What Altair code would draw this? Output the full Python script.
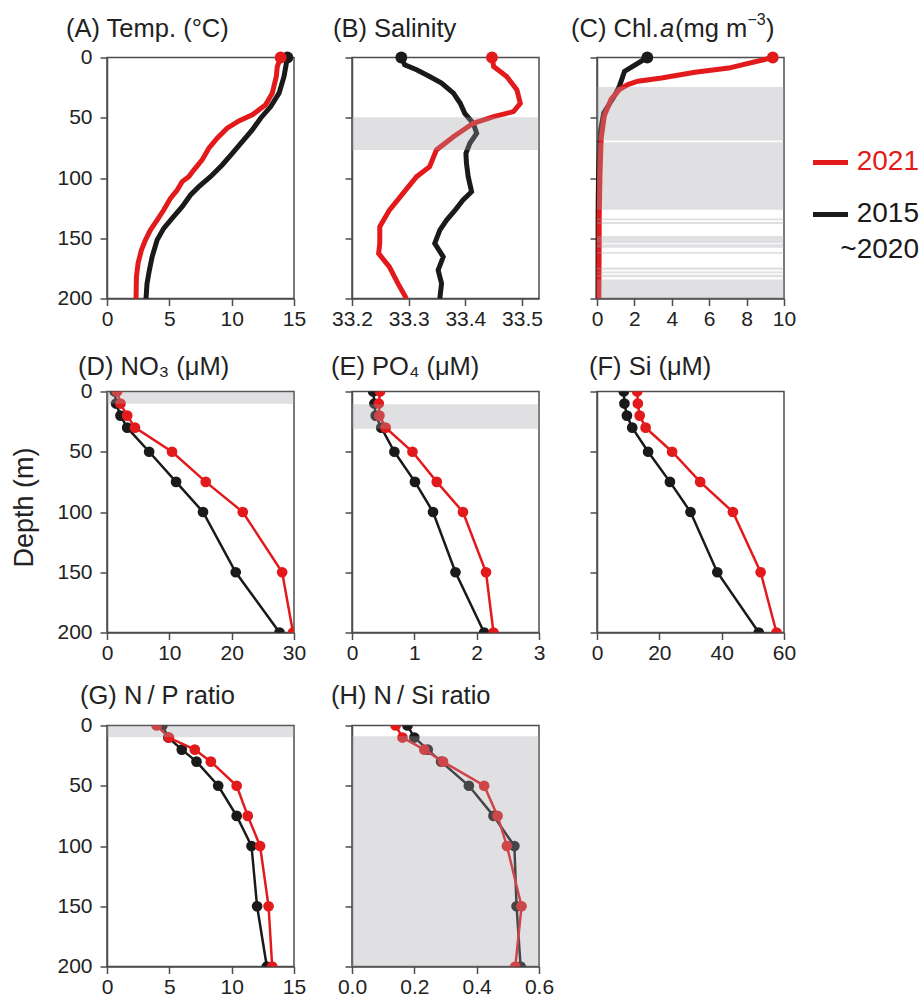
import altair as alt
import pandas as pd

RED = "#e31a1c"
BLACK = "#1a1a1a"
BAND = "#a2a2a8"
AXIS = "#4d4d4d"
TXT = "#222222"
FONT = "Liberation Sans"
TFS = 25.5

W = 187
H = 241

# ---------------- data ----------------
# (A) Temperature (continuous CTD profiles)
temp_2021_depth = [0, 7.5, 15.8, 29.6, 39.3, 47.6, 52.6, 58.7, 67.0, 75.3, 85.0, 93.4, 98.9,
                   103.0, 110.0, 116.9, 126.6, 134.9, 143.2, 151.5, 159.8, 170.9, 182.0, 200]
temp_2021 = [13.93, 13.66, 13.58, 13.26, 12.72, 11.65, 10.58, 9.64, 8.84, 8.17, 7.63, 6.96, 6.56,
             6.03, 5.63, 5.09, 4.55, 4.02, 3.48, 3.08, 2.76, 2.49, 2.36, 2.33]
temp_clim_depth = [0, 15.8, 29.6, 40.7, 50.4, 60.1, 69.8, 79.5, 89.2, 98.9, 107.2, 114.1, 123.8,
                   133.5, 141.8, 151.5, 165.4, 176.5, 187.5, 200]
temp_clim = [14.47, 14.2, 13.8, 13.13, 12.32, 11.65, 10.85, 10.05, 9.24, 8.3, 7.37, 6.7, 6.03,
             5.22, 4.55, 4.02, 3.62, 3.4, 3.21, 3.13]

# (B) Salinity
sal_2021_depth = [0, 7.5, 15.8, 26.9, 38.0, 44.9, 49.0, 54.6, 65.7, 76.7, 90.6, 98.9, 112.7,
                  126.6, 140.4, 154.3, 162.6, 173.7, 187.5, 200]
sal_2021 = [33.447, 33.45, 33.473, 33.491, 33.497, 33.485, 33.45, 33.414, 33.379, 33.349, 33.337,
            33.314, 33.29, 33.266, 33.249, 33.249, 33.247, 33.266, 33.281, 33.296]
sal_clim_depth = [0, 6.1, 10.2, 15.8, 21.3, 29.6, 38.0, 46.3, 54.6, 62.9, 71.2, 79.5, 87.8, 98.9,
                  111.4, 118.3, 126.6, 134.9, 143.2, 154.3, 165.4, 176.5, 187.5, 200]
sal_clim = [33.287, 33.293, 33.314, 33.337, 33.358, 33.379, 33.391, 33.399, 33.414, 33.42, 33.408,
            33.401, 33.402, 33.405, 33.411, 33.396, 33.382, 33.367, 33.355, 33.346, 33.361, 33.352,
            33.358, 33.355]

# (C) Chl.a
chl_2021_depth = [0, 8.8, 12.3, 17.0, 19.7, 22.5, 26.6, 34.8, 48.4, 67.6, 97.6, 130, 200]
chl_2021 = [9.4, 7.04, 5.24, 3.45, 2.19, 1.65, 1.2, 0.75, 0.39, 0.22, 0.16, 0.12, 0.1]
chl_clim_depth = [0, 11.5, 23.8, 32.0, 46.0, 60.0, 73.0, 101, 128, 200]
chl_clim = [2.69, 1.47, 1.2, 0.93, 0.36, 0.2, 0.13, 0.08, 0.06, 0.05]

# (D)-(H) bottle samples
depth_levels = [0, 10, 20, 30, 50, 75, 100, 150, 200]
no3_2021 = [1.62, 2.16, 3.24, 4.49, 10.43, 15.84, 21.78, 28.1, 29.84]
no3_clim = [1.24, 1.46, 2.16, 3.24, 6.76, 11.08, 15.4, 20.65, 27.68]
po4_2021 = [0.45, 0.43, 0.44, 0.54, 0.97, 1.36, 1.78, 2.15, 2.27]
po4_clim = [0.34, 0.36, 0.38, 0.47, 0.68, 1.01, 1.30, 1.66, 2.12]
si_2021 = [12.9, 13.1, 13.7, 15.6, 24.1, 33.1, 43.6, 52.5, 57.6]
si_clim = [8.6, 8.8, 9.6, 11.3, 16.4, 23.4, 30.0, 38.6, 51.9]
np_2021 = [3.98, 4.97, 7.04, 8.33, 10.4, 11.29, 12.28, 12.96, 13.25]
np_clim = [4.44, 4.92, 6.0, 7.18, 8.92, 10.4, 11.59, 12.04, 12.82]
nsi_2021 = [0.14, 0.162, 0.232, 0.292, 0.424, 0.467, 0.497, 0.544, 0.524]
nsi_clim = [0.178, 0.2, 0.243, 0.286, 0.375, 0.454, 0.521, 0.528, 0.541]

# shaded depth ranges (top, bottom)
bands_B = [(49.6, 76.8)]
bands_C = [(24.4, 68.9), (70.3, 126.3), (133.7, 135.0), (136.5, 138.1), (148.2, 154.2),
           (155.0, 157.8), (161.4, 162.8), (174.2, 176.1), (177.5, 179.0), (180.2, 182.4),
           (184.3, 200.0)]
bands_D = [(0, 10.2)]
bands_E = [(10.5, 31.0)]
bands_G = [(0, 9.7)]
bands_H = [(9.0, 200.0)]

legend_labels = ["2021", "2015", "~2020"]

depth_ticks = [0, 50, 100, 150, 200]

# ---------------- helpers ----------------
yscale = alt.Scale(domain=[0, 200], reverse=True, nice=False, zero=False)


def text_layer(txt, x, y, size=TFS, color=TXT, align="left", style="normal", angle=0):
    kw = dict(align=align, baseline="alphabetic", fontSize=size, color=color, font=FONT,
              fontStyle=style)
    if angle:
        kw["angle"] = angle
        kw["baseline"] = "middle"
    return alt.Chart(pd.DataFrame({"t": [txt]})).mark_text(**kw).encode(
        x=alt.value(x), y=alt.value(y), text="t:N")


def panel(xdomain, xticks, xfmt, series, bands, col1, titles, bottle, extra=()):
    x = alt.X("value:Q", scale=alt.Scale(domain=xdomain, nice=False, zero=False),
              axis=alt.Axis(values=xticks, format=xfmt, title=None))
    yaxis = alt.Axis(values=depth_ticks, title=None, labels=col1)
    y = alt.Y("depth:Q", scale=yscale, axis=yaxis)
    layers = []
    for depths, values, color in series:
        df = pd.DataFrame({"depth": depths, "value": values})
        layers.append(alt.Chart(df).mark_line(color=color, strokeWidth=2.5 if bottle else 5,
                                              clip=bottle).encode(x=x, y=y, order="depth:Q"))
        pts = df if bottle else df[df["depth"] == 0]
        layers.append(alt.Chart(pts).mark_circle(color=color, size=115 if bottle else 140,
                                                 opacity=1, clip=bottle).encode(x=x, y=y))
    if bands:
        bdf = pd.DataFrame({"top": [b[0] for b in bands], "bottom": [b[1] for b in bands]})
        layers.append(alt.Chart(bdf).mark_rect(color=BAND, opacity=0.33).encode(
            x=alt.value(0), x2=alt.value(W),
            y=alt.Y("top:Q", scale=yscale, axis=yaxis), y2="bottom:Q"))
    for t in titles:
        layers.append(text_layer(*t))
    layers.extend(extra)
    return alt.layer(*layers).properties(width=W, height=H)


R1, R2, R3 = -21, -17, -21.5

pA = panel([0, 15], [0, 5, 10, 15], "d",
           [(temp_clim_depth, temp_clim, BLACK), (temp_2021_depth, temp_2021, RED)],
           None, True, [("(A) Temp. (°C)", -41, R1)], False)

pB = panel([33.2, 33.53], [33.2, 33.3, 33.4, 33.5], ".1f",
           [(sal_clim_depth, sal_clim, BLACK), (sal_2021_depth, sal_2021, RED)],
           bands_B, False, [("(B) Salinity", -19, R1)], False)

legend = [
    alt.Chart(pd.DataFrame({"k": [0]})).mark_rule(color=RED, strokeWidth=5).encode(
        x=alt.value(216), x2=alt.value(251), y=alt.value(105)),
    alt.Chart(pd.DataFrame({"k": [0]})).mark_rule(color=BLACK, strokeWidth=5).encode(
        x=alt.value(216), x2=alt.value(251), y=alt.value(157)),
    text_layer(legend_labels[0], 322, 112, size=28, color=RED, align="right"),
    text_layer(legend_labels[1], 322, 164, size=28, color=BLACK, align="right"),
    text_layer(legend_labels[2], 322, 200, size=28, color=BLACK, align="right"),
]

pC = panel([0, 10], [0, 2, 4, 6, 8, 10], "d",
           [(chl_clim_depth, chl_clim, BLACK), (chl_2021_depth, chl_2021, RED)],
           bands_C, False,
           [("(C) Chl.", -26, R1), ("a", 63, R1, TFS, TXT, "left", "italic"),
            ("(mg m", 78, R1), ("−3", 150.5, -33, 16), (")", 169, R1)], False, legend)

pD = panel([0, 30], [0, 10, 20, 30], "d",
           [(depth_levels, no3_clim, BLACK), (depth_levels, no3_2021, RED)],
           bands_D, True, [("(D) NO₃ (μM)", -29, R2)], True,
           [text_layer("Depth (m)", -82, 116, size=27, align="center", angle=270)])

pE = panel([0, 3], [0, 1, 2, 3], "d",
           [(depth_levels, po4_clim, BLACK), (depth_levels, po4_2021, RED)],
           bands_E, False, [("(E) PO₄ (μM)", -21, R2)], True)

pF = panel([0, 60], [0, 20, 40, 60], "d",
           [(depth_levels, si_clim, BLACK), (depth_levels, si_2021, RED)],
           None, False, [("(F) Si (μM)", -8, R2)], True)

pG = panel([0, 15], [0, 5, 10, 15], "d",
           [(depth_levels, np_clim, BLACK), (depth_levels, np_2021, RED)],
           bands_G, True, [("(G) N\u2009/ P ratio", -27, R3)], True)

pH = panel([0, 0.6], [0, 0.2, 0.4, 0.6], ".1f",
           [(depth_levels, nsi_clim, BLACK), (depth_levels, nsi_2021, RED)],
           bands_H, False, [("(H) N\u2009/ Si ratio", -21, R3)], True)

chart = alt.concat(pA, pB, pC, pD, pE, pF, pG, pH, columns=3,
                   spacing={"row": 93, "column": 58}, bounds="flush").properties(
    padding={"left": 10, "top": 10.5, "right": 2, "bottom": 0}
).configure_view(stroke=AXIS, strokeWidth=1.5).configure_axis(
    domainColor=AXIS, domainWidth=1.5, tickColor=AXIS, tickWidth=1.5, tickSize=7,
    labelFont=FONT, labelFontSize=21, labelColor=TXT, grid=False, labelFlush=False,
    labelOverlap=False
).configure_axisX(labelPadding=3).configure_axisY(labelPadding=8)

chart.save("out.html", embed_options={"renderer": "svg", "actions": False})
